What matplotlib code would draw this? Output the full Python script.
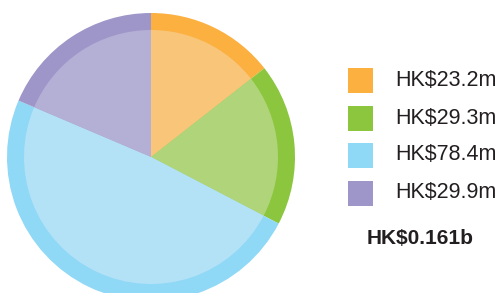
import matplotlib
matplotlib.use("Agg")
import matplotlib.pyplot as plt
from matplotlib.patches import Rectangle

values = [23.2, 29.3, 78.4, 29.9]
labels = ["HK$23.2m", "HK$29.3m", "HK$78.4m", "HK$29.9m"]
total_label = "HK$0.161b"
outer_colors = ["#FBB040", "#8CC63F", "#8FD8F6", "#9E96C8"]
inner_colors = ["#F9C579", "#AFD479", "#B3E2F7", "#B4AFD5"]

W, H = 502, 293
fig = plt.figure(figsize=(W / 100, H / 100), dpi=100)
ax = fig.add_axes([0, 0, 1, 1])

cx, cy = 151, H - 157
ax.pie(values, colors=outer_colors, startangle=90, counterclock=False,
       radius=144, center=(cx, cy), wedgeprops=dict(linewidth=0), frame=True)
ax.pie(values, colors=inner_colors, startangle=90, counterclock=False,
       radius=127, center=(cx, cy), wedgeprops=dict(linewidth=0), frame=True)

ax.set_xlim(0, W)
ax.set_ylim(0, H)
ax.set_aspect("equal")
ax.axis("off")

row_y = [80, 118, 155, 193]
for lab, col, yy in zip(labels, outer_colors, row_y):
    y = H - yy
    ax.add_patch(Rectangle((348, y - 12.5), 25, 25, facecolor=col, edgecolor="none"))
    ax.text(395, y, lab, fontsize=15.5, family="Liberation Sans", color="#231F20",
            va="center", ha="left")

ax.text(367, H - 238, total_label, fontsize=15, family="Liberation Sans",
        fontweight="bold", color="#231F20", va="center", ha="left")

fig.savefig("out.png", dpi=100)
